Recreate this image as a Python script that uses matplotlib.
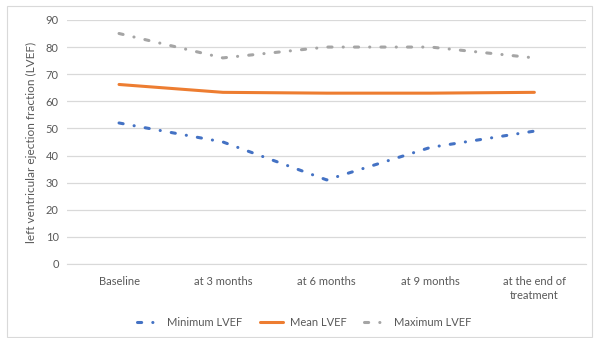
import numpy as np
import matplotlib
matplotlib.use("Agg")
import matplotlib.pyplot as plt
from matplotlib.patches import Rectangle

plt.rcParams['font.family'] = ['Lato', 'DejaVu Sans']
plt.rcParams['lines.scale_dashes'] = False

# data
categories = ["Baseline", "at 3 months", "at 6 months", "at 9 months", "at the end of\ntreatment"]
min_lvef = [52, 45, 31, 43, 49]
mean_lvef = [66.2, 63.3, 63.0, 63.0, 63.3]
max_lvef = [85, 76, 80, 80, 76]

txt = '#595959'
grid = '#D9D9D9'

fig = plt.figure(figsize=(5.94, 3.38), dpi=100)
ax = fig.add_axes([0.113, 0.219, 0.874, 0.722])

x = np.arange(len(categories))
dd = (3, 8, 0.1, 8)
ax.plot(x, min_lvef, color='#4472C4', lw=2.2, dashes=dd, dash_capstyle='round', label='Minimum LVEF')
ax.plot(x, mean_lvef, color='#ED7D31', lw=2.2, solid_capstyle='round', label='Mean LVEF')
ax.plot(x, max_lvef, color='#A5A5A5', lw=2.2, dashes=dd, dash_capstyle='round', label='Maximum LVEF')

ax.set_xlim(-0.5, len(categories) - 0.5)
ax.set_ylim(0, 90)
ax.set_yticks(range(0, 91, 10))
ax.set_xticks(x)
ax.set_xticklabels(categories, linespacing=1.3)
ax.grid(axis='y', color=grid, lw=0.9)
ax.set_axisbelow(True)
for s in ['top', 'right', 'left']:
    ax.spines[s].set_visible(False)
ax.spines['bottom'].set_color(grid)
ax.tick_params(axis='both', length=0, labelsize=8, colors=txt, pad=6)
ax.tick_params(axis='x', pad=9)
ax.set_ylabel('left ventricular ejection fraction (LVEF)', fontsize=8.5, color=txt, labelpad=6)

leg = fig.legend(loc='center', bbox_to_anchor=(0.512, 0.047), ncol=3, frameon=False,
                 fontsize=8, handlelength=2.1, columnspacing=1.6, handletextpad=0.6)
for t in leg.get_texts():
    t.set_color(txt)

fig.patches.append(Rectangle((0.012, 0.003), 0.985, 0.98, transform=fig.transFigure,
                             fill=False, edgecolor='#D9D9D9', lw=0.8))

fig.savefig('out.png', dpi=100)
